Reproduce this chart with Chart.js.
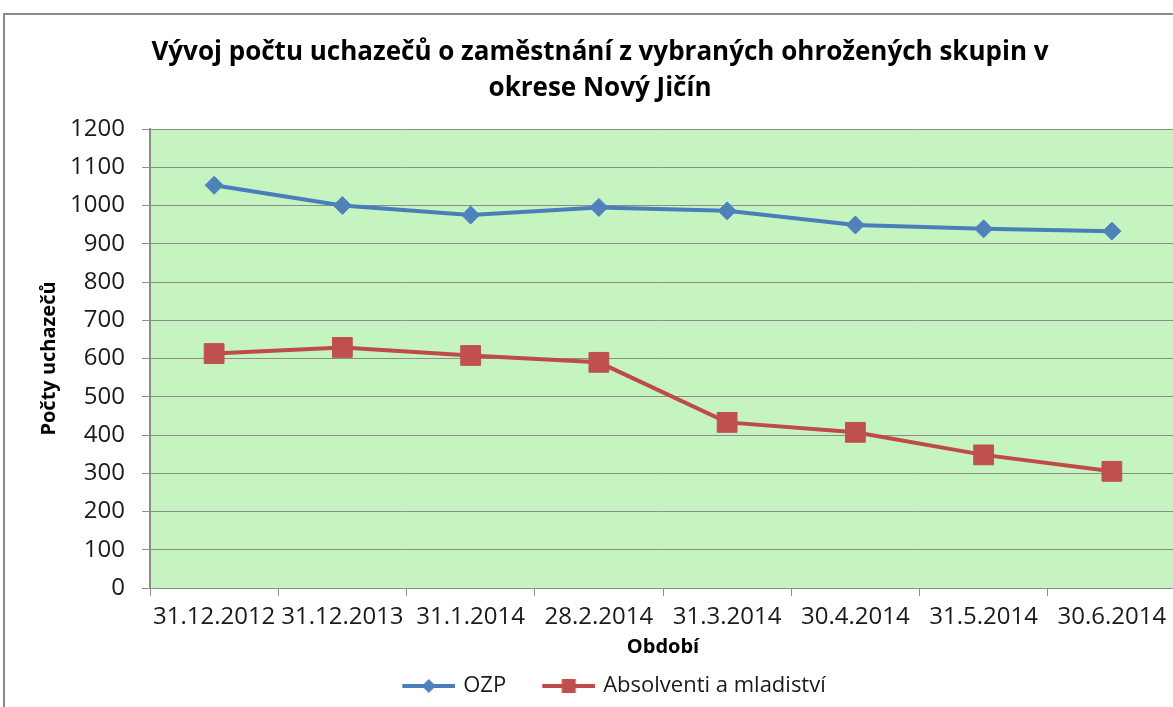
<!DOCTYPE html>
<html lang="cs">
<head>
<meta charset="utf-8">
<script src="https://cdn.jsdelivr.net/npm/chart.js"></script>
<style>
    html, body { margin: 0; padding: 0; background: #fff; overflow: hidden; }
    #frame {
        position: absolute; left: 3px; top: 13px;
        width: 1200px; height: 720px;
        border-left: 2px solid #8a8a8a; border-top: 2px solid #8a8a8a;
    }
    #chart { position: absolute; left: 0; top: 0; }
</style>
</head>
<body>
<div id="frame"><canvas id="chart" width="1190" height="700"></canvas></div>
<script>
// Data
const periods = ['31.12.2012', '31.12.2013', '31.1.2014', '28.2.2014', '31.3.2014', '30.4.2014', '31.5.2014', '30.6.2014'];
const ozp = [1053, 1000, 975, 995, 986, 949, 939, 933];
const absolventi = [613, 629, 608, 590, 433, 407, 348, 305];
const yMin = 0;
const yMax = 1200;
const yStep = 100;

const titleLines = ['Vývoj počtu uchazečů o zaměstnání z vybraných ohrožených skupin v', 'okrese Nový Jičín'];

const BLUE_LINE = '#4a7ebb';
const BLUE_MARK = '#4f81bd';
const RED_LINE = '#be4b48';
const RED_MARK = '#c0504d';
const GRID = '#8c8c8c';
const TEXT = '#1a1a1a';

// legend icon: line with marker, drawn on a small canvas
function legendIcon(lineColor, markColor, shape) {
    const c = document.createElement('canvas');
    c.width = 84;
    c.height = 20;
    const g = c.getContext('2d');
    g.strokeStyle = lineColor;
    g.lineWidth = 4;
    g.beginPath();
    g.moveTo(31, 10);
    g.lineTo(84, 10);
    g.stroke();
    g.fillStyle = markColor;
    const cx = 57.5;
    if (shape === 'diamond') {
        g.beginPath();
        g.moveTo(cx, 3); g.lineTo(cx + 7, 10); g.lineTo(cx, 17); g.lineTo(cx - 7, 10);
        g.closePath();
        g.fill();
    } else {
        g.fillRect(cx - 7, 3, 14, 14);
    }
    return c;
}
const legendIcons = [
    legendIcon(BLUE_LINE, BLUE_MARK, 'diamond'),
    legendIcon(RED_LINE, RED_MARK, 'square')
];

// green plot background
const plotBackground = {
    id: 'plotBackground',
    beforeDraw(chart) {
        const {ctx, chartArea} = chart;
        ctx.save();
        ctx.fillStyle = '#c6f4c0';
        ctx.fillRect(chartArea.left, chartArea.top, chartArea.right - chartArea.left, chartArea.bottom - chartArea.top);
        ctx.restore();
    }
};

const ctx = document.getElementById('chart').getContext('2d');
new Chart(ctx, {
    type: 'line',
    data: {
        labels: periods,
        datasets: [{
            label: 'OZP',
            data: ozp,
            borderColor: BLUE_LINE,
            backgroundColor: BLUE_MARK,
            borderWidth: 4,
            pointStyle: 'rectRot',
            pointRadius: 9,
            pointBackgroundColor: BLUE_MARK,
            pointBorderColor: BLUE_MARK,
            pointBorderWidth: 1,
            tension: 0
        }, {
            label: 'Absolventi a mladiství',
            data: absolventi,
            borderColor: RED_LINE,
            backgroundColor: RED_MARK,
            borderWidth: 4,
            pointStyle: 'rect',
            pointRadius: 14,
            pointBackgroundColor: RED_MARK,
            pointBorderColor: RED_MARK,
            pointBorderWidth: 1,
            tension: 0
        }]
    },
    options: {
        responsive: false,
        animation: false,
        layout: {
            padding: { left: 19, right: 19, top: 0, bottom: 8 }
        },
        plugins: {
            title: {
                display: true,
                text: titleLines,
                color: '#000',
                font: { family: 'Open Sans', size: 26, weight: 'bold', lineHeight: 1.385 },
                padding: { top: 20, bottom: 22 }
            },
            legend: {
                position: 'bottom',
                labels: {
                    usePointStyle: true,
                    pointStyleWidth: 78,
                    padding: 8,
                    color: TEXT,
                    font: { family: 'Open Sans', size: 22 },
                    generateLabels: (chart) => {
                        const items = Chart.defaults.plugins.legend.labels.generateLabels(chart);
                        items.forEach((item, i) => { item.pointStyle = legendIcons[i]; });
                        return items;
                    }
                }
            },
            tooltip: { enabled: false }
        },
        scales: {
            x: {
                offset: true,
                grid: {
                    offset: true,
                    drawOnChartArea: false,
                    color: GRID,
                    tickLength: 8
                },
                border: { color: GRID, width: 1 },
                ticks: {
                    color: TEXT,
                    padding: 7,
                    maxRotation: 0,
                    autoSkip: false,
                    font: { family: 'Open Sans', size: 24 }
                },
                title: {
                    display: true,
                    text: 'Období',
                    color: '#000',
                    font: { family: 'Open Sans', size: 20, weight: 'bold' },
                    padding: { top: 3, bottom: 8 }
                },
                afterFit: (scale) => { scale.height = 79; }
            },
            y: {
                min: yMin,
                max: yMax,
                grid: {
                    color: GRID,
                    tickLength: 8
                },
                border: { color: GRID, width: 2 },
                ticks: {
                    stepSize: yStep,
                    color: TEXT,
                    padding: 17,
                    font: { family: 'Open Sans', size: 24 },
                    callback: (value) => String(value)
                },
                title: {
                    display: true,
                    text: 'Počty uchazečů',
                    color: '#000',
                    font: { family: 'Open Sans', size: 20, weight: 'bold' },
                    padding: { top: 13, bottom: 0 }
                },
                afterFit: (scale) => { scale.width = 126; }
            }
        }
    },
    plugins: [plotBackground]
});
</script>
</body>
</html>
